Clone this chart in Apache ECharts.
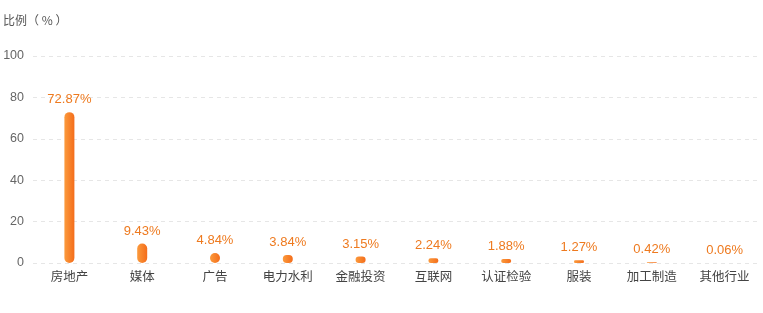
<!DOCTYPE html>
<html>
<head>
<meta charset="utf-8">
<style>
  html, body { margin: 0; padding: 0; background: #fff; }
  #chart { width: 763px; height: 313px; }
</style>
<script src="https://cdn.jsdelivr.net/npm/echarts@6/dist/echarts.min.js"></script>
</head>
<body>
<div id="chart"></div>
<script>
// Industry share of total (%)
var categories = ['房地产', '媒体', '广告', '电力水利', '金融投资', '互联网', '认证检验', '服装', '加工制造', '其他行业'];
var shares = [72.87, 9.43, 4.84, 3.84, 3.15, 2.24, 1.88, 1.27, 0.42, 0.06];
var yTicks = [0, 20, 40, 60, 80, 100];

var chart = echarts.init(document.getElementById('chart'));
chart.setOption({
  animation: false,
  grid: { left: 31, right: 2, top: 56, bottom: 50 },
  xAxis: {
    type: 'category',
    data: categories,
    axisLine: { show: false },
    axisTick: { show: false },
    axisLabel: { color: '#444', fontSize: 12.5, margin: 7, fontFamily: 'Noto Sans CJK SC' }
  },
  yAxis: {
    type: 'value',
    min: yTicks[0],
    max: yTicks[yTicks.length - 1],
    interval: 20,
    name: '比例（ % ）',
    nameLocation: 'end',
    nameGap: 30,
    nameTextStyle: { color: '#555', fontSize: 12, align: 'left', padding: [0, 0, 0, -30], fontFamily: 'Noto Sans CJK SC' },
    axisLine: { show: false },
    axisTick: { show: false },
    axisLabel: { color: '#666', fontSize: 12.5, margin: 9 },
    splitLine: { lineStyle: { color: '#e6e6e6', type: [4, 4] } }
  },
  series: [{
    type: 'bar',
    data: shares,
    barWidth: 10,
    itemStyle: {
      borderRadius: 5,
      color: new echarts.graphic.LinearGradient(0, 0, 1, 0, [
        { offset: 0, color: '#fb9a3c' },
        { offset: 1, color: '#f46d1b' }
      ])
    },
    label: {
      show: true,
      position: 'top',
      distance: 6,
      color: '#ee7a1f',
      fontSize: 13,
      formatter: function (p) { return p.value.toFixed(2) + '%'; }
    }
  }]
});
</script>
</body>
</html>
